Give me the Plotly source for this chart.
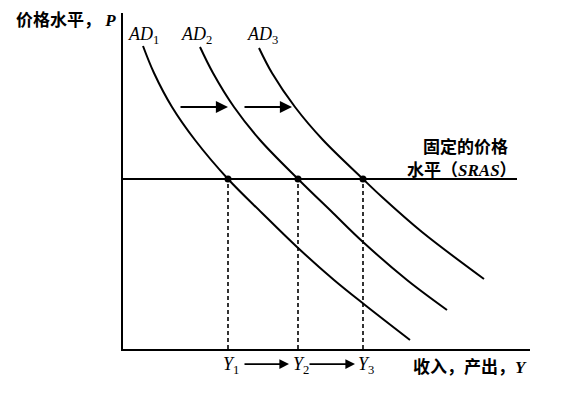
import plotly.graph_objects as go

# Curves (x = output, y = price level; arbitrary units)
ad1_x = [20, 31, 49, 72, 105, 139, 174, 211, 242, 287]
ad1_y = [303, 276, 242, 209, 170, 136, 102, 69, 44, 9]
ad2_x = [77, 90, 111, 137, 175, 210, 240, 284, 324]
ad2_y = [302, 276, 242, 209, 170, 136, 107, 69, 39]
ad3_x = [136, 149, 172, 200, 240, 259, 299, 361]
ad3_y = [301, 276, 242, 209, 170, 152, 117, 70]

sras_x = [0, 394]
sras_y = [170, 170]

eq_x = [105, 175, 240]          # Y1, Y2, Y3
eq_p = 170                      # fixed price level
eq_labels = ["1", "2", "3"]
ad_labels = ["1", "2", "3"]
ad_label_x = [20, 73, 139]

XMAX, YMAX = 407, 336

CJK = "Noto Sans CJK SC"
SERIF = "Liberation Serif"
LAT = "<i><span style='font-family:%s'>%s</span></i>"

fig = go.Figure()

for xs, ys in [(ad1_x, ad1_y), (ad2_x, ad2_y), (ad3_x, ad3_y)]:
    fig.add_trace(go.Scatter(x=xs, y=ys, mode="lines",
                             line=dict(color="black", width=2, shape="spline", smoothing=1),
                             hoverinfo="skip", showlegend=False))

fig.add_trace(go.Scatter(x=sras_x, y=sras_y, mode="lines",
                         line=dict(color="black", width=2), showlegend=False, hoverinfo="skip"))

for xv in eq_x:
    fig.add_trace(go.Scatter(x=[xv, xv], y=[0, eq_p], mode="lines",
                             line=dict(color="black", width=1.6, dash="4px,3px"),
                             showlegend=False, hoverinfo="skip"))

fig.add_trace(go.Scatter(x=eq_x, y=[eq_p] * 3, mode="markers",
                         marker=dict(color="black", size=7), showlegend=False, hoverinfo="skip"))

cjk_font = dict(family=CJK, size=17, color="black", weight="bold")
ann = []
# axis titles
ann.append(dict(x=-0.268, y=0.985, xref="paper", yref="paper", xanchor="left", yanchor="middle",
                text="价格水平，" + LAT % (SERIF, "&nbsp;P"),
                showarrow=False, font=cjk_font))
ann.append(dict(x=0.997, y=-0.048, xref="paper", yref="paper", xanchor="right", yanchor="middle",
                text="收入，产出，" + LAT % (SERIF, "Y"),
                showarrow=False, font=cjk_font))
# SRAS label
ann.append(dict(x=342, y=204, xref="x", yref="y", xanchor="center", yanchor="middle",
                text="固定的价格", showarrow=False, font=cjk_font))
ann.append(dict(x=339, y=181, xref="x", yref="y", xanchor="center", yanchor="middle",
                text="水平（" + LAT % (SERIF, "SRAS") + "）",
                showarrow=False, font=cjk_font))
# AD labels
for lx, lb in zip(ad_label_x, ad_labels):
    ann.append(dict(x=lx, y=314, xref="x", yref="y", xanchor="center", yanchor="middle",
                    text="<i>AD</i><sub>%s</sub>" % lb, showarrow=False,
                    font=dict(family=SERIF, size=18, color="black")))
# Y labels
for xv, lb in zip(eq_x, eq_labels):
    ann.append(dict(x=xv + 3, y=-0.048, xref="x", yref="paper", xanchor="center", yanchor="middle",
                    text="<i>Y</i><sub>%s</sub>" % lb, showarrow=False,
                    font=dict(family=SERIF, size=18, color="black")))
# shift arrows
for tail, head in [(56, 105), (120, 169)]:
    ann.append(dict(x=head, y=242, ax=tail, ay=242, xref="x", yref="y", axref="x", ayref="y",
                    showarrow=True, arrowhead=2, arrowsize=1.1, arrowwidth=2.2,
                    arrowcolor="black", text=""))
for tail, head in [(120, 166), (185, 232)]:
    ann.append(dict(x=head, y=-0.045, ax=tail, ay=0, xref="x", yref="paper", axref="x", ayref="pixel",
                    showarrow=True, arrowhead=2, arrowsize=1.2, arrowwidth=1.6,
                    arrowcolor="black", text=""))

fig.update_layout(
    width=554, height=387,
    margin=dict(l=115, r=32, t=5, b=46),
    paper_bgcolor="white", plot_bgcolor="white",
    annotations=ann,
    xaxis=dict(range=[0, XMAX], showline=True, linecolor="black", linewidth=2,
               showgrid=False, zeroline=False, showticklabels=False, ticks=""),
    yaxis=dict(range=[0, YMAX], showline=True, linecolor="black", linewidth=2,
               showgrid=False, zeroline=False, showticklabels=False, ticks=""),
)

fig.write_html("out.html")
